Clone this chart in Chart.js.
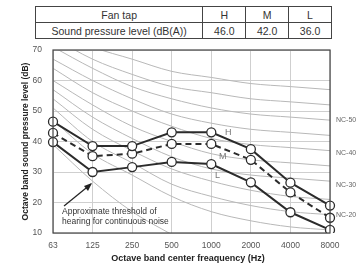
<!DOCTYPE html>
<html lang="en">
<head>
    <meta charset="UTF-8">
    <title>NC curve</title>
    <script src="https://cdn.jsdelivr.net/npm/chart.js@4/dist/chart.umd.min.js"></script>
    <style>
        body {
            margin: 0;
            background: #fff;
            font-family: "Liberation Sans", Arial, sans-serif;
        }

        .wrap {
            position: relative;
            width: 363px;
            height: 271px;
        }

        table {
            position: absolute;
            left: 35px;
            top: 6px;
            width: 297px;
            border-collapse: collapse;
            font-size: 10.5px;
            color: #333;
            background: #fff;
        }

        td {
            border: 1px solid #444;
            height: 15px;
            padding: 0;
            text-align: center;
        }

        canvas {
            position: absolute;
            left: 0;
            top: 0;
        }
    </style>
</head>
<body>
<div class="wrap">
    <canvas id="ncChart" width="363" height="271"></canvas>
    <table id="levelTable"></table>
</div>

<script>
    // table above the chart
    const tableHeader = ['Fan tap', 'H', 'M', 'L'];
    const tableRow = ['Sound pressure level (dB(A))', '46.0', '42.0', '36.0'];

    // octave bands
    const freqs = ['63', '125', '250', '500', '1000', '2000', '4000', '8000'];

    // measured levels per fan tap
    const highTap = [46.5, 38.5, 38.5, 43, 43, 37.5, 26.5, 19];
    const midTap = [42.8, 35.2, 36, 39.2, 39.2, 34, 23.3, 15];
    const lowTap = [39.8, 30, 31.6, 33.3, 32.6, 26.6, 16.8, 11];

    // background NC curves
    const nc15 = [47, 36, 29, 22, 17, 14, 12, 11];
    const nc20 = [51, 40, 33, 26, 22, 19, 17, 16];
    const nc25 = [54, 44, 37, 31, 27, 24, 22, 21];
    const nc30 = [57, 48, 41, 35, 31, 29, 28, 27];
    const nc35 = [60, 52, 45, 40, 36, 34, 33, 32];
    const nc40 = [64, 56, 50, 45, 41, 39, 38, 37];
    const nc45 = [67, 60, 54, 49, 46, 44, 43, 42];
    const nc50 = [71, 64, 58, 54, 51, 49, 48, 47];
    const nc55 = [74, 67, 62, 58, 56, 54, 53, 52];
    const nc60 = [77, 71, 67, 63, 61, 59, 58, 57];
    const ncLabels = [['NC-50', nc50], ['NC-40', nc40], ['NC-30', nc30], ['NC-20', nc20]];

    // threshold of hearing
    const threshold = [39, 27, 17, 9.5, null, null, null, null];

    const yTicks = [10, 20, 30, 40, 50, 60, 70];

    document.getElementById('levelTable').innerHTML =
        '<tr>' + tableHeader.map((t, i) => `<td style="width:${i === 0 ? 167 : 42}px">${t}</td>`).join('') + '</tr>' +
        '<tr>' + tableRow.map(t => `<td>${t}</td>`).join('') + '</tr>';

    function grayCurve(data) {
        return {
            data: data,
            borderColor: '#b8b8b8',
            borderWidth: 1,
            pointRadius: 0,
            tension: 0.4,
            cubicInterpolationMode: 'monotone',
            fill: false
        };
    }

    function tapLine(data, dashed) {
        return {
            data: data,
            borderColor: '#2b2b2b',
            borderWidth: 2,
            borderDash: dashed ? [6, 4] : [],
            pointRadius: 4.5,
            pointBackgroundColor: '#fff',
            pointBorderColor: '#2b2b2b',
            pointBorderWidth: 1.3,
            tension: 0,
            fill: false
        };
    }

    const extras = {
        id: 'extras',
        afterDraw(chart) {
            const ctx = chart.ctx;
            const y = chart.scales.y;
            const area = chart.chartArea;
            ctx.save();

            // frame
            ctx.strokeStyle = '#444';
            ctx.lineWidth = 1.2;
            ctx.strokeRect(area.left, area.top, area.right - area.left, area.bottom - area.top);

            // curve labels
            ctx.fillStyle = '#666';
            ctx.font = '7px "Liberation Sans", Arial';
            ctx.textBaseline = 'middle';
            const nudge = [0, 2, 4, 0];
            ncLabels.forEach(([name, vals], i) => {
                ctx.fillText(name, area.right + 6, y.getPixelForValue(vals[vals.length - 1]) + nudge[i]);
            });

            // tap labels
            ctx.font = '9px "Liberation Sans", Arial';
            ctx.fillStyle = '#777';
            ctx.fillText('H', 225, 133);
            ctx.fillText('M', 219, 157);
            ctx.fillText('L', 215, 176);

            // threshold note
            ctx.fillStyle = '#333';
            ctx.font = '8.5px "Liberation Sans", Arial';
            ctx.fillText('Approximate threshold of', 62, 212);
            ctx.fillText('hearing for continuous noise', 62, 222);

            ctx.strokeStyle = '#222';
            ctx.lineWidth = 1.2;
            ctx.beginPath();
            ctx.moveTo(64, 206);
            ctx.lineTo(91, 184);
            ctx.stroke();
            ctx.fillStyle = '#222';
            ctx.beginPath();
            ctx.moveTo(92, 183);
            ctx.lineTo(84, 186);
            ctx.lineTo(88, 191);
            ctx.closePath();
            ctx.fill();

            // axis titles
            ctx.fillStyle = '#222';
            ctx.textAlign = 'center';
            ctx.font = 'bold 9px "Liberation Sans", Arial';
            ctx.fillText('Octave band center freaquency (Hz)', 188, 259);
            ctx.font = 'bold 8.5px "Liberation Sans", Arial';
            ctx.translate(26, (area.top + area.bottom) / 2);
            ctx.rotate(-Math.PI / 2);
            ctx.fillText('Octave band sound pressure level (dB)', 0, 0);
            ctx.restore();
        }
    };

    new Chart(document.getElementById('ncChart'), {
        type: 'line',
        data: {
            labels: freqs,
            datasets: [
                tapLine(highTap, false),
                tapLine(midTap, true),
                tapLine(lowTap, false),
                grayCurve(threshold),
                grayCurve(nc15),
                grayCurve(nc20),
                grayCurve(nc25),
                grayCurve(nc30),
                grayCurve(nc35),
                grayCurve(nc40),
                grayCurve(nc45),
                grayCurve(nc50),
                grayCurve(nc55),
                grayCurve(nc60)
            ]
        },
        options: {
            responsive: false,
            animation: false,
            events: [],
            layout: {
                padding: { left: 0, top: 50, right: 33, bottom: 0 }
            },
            plugins: {
                legend: { display: false },
                tooltip: { enabled: false }
            },
            scales: {
                x: {
                    type: 'category',
                    offset: false,
                    grid: { color: '#cfcfcf', drawTicks: false },
                    border: { display: false },
                    ticks: {
                        padding: 8,
                        color: '#555',
                        font: { size: 8.5, family: '"Liberation Sans", Arial' },
                        maxRotation: 0,
                        autoSkip: false
                    },
                    afterFit(scale) { scale.height = 38; }
                },
                y: {
                    min: 10,
                    max: 70,
                    grid: { color: '#cfcfcf', drawTicks: false },
                    border: { display: false },
                    afterBuildTicks(scale) { scale.ticks = yTicks.map(v => ({ value: v })); },
                    ticks: {
                        padding: 11,
                        color: '#555',
                        font: { size: 8.5, family: '"Liberation Sans", Arial' }
                    },
                    afterFit(scale) { scale.width = 53; }
                }
            }
        },
        plugins: [extras]
    });
</script>
</body>
</html>
